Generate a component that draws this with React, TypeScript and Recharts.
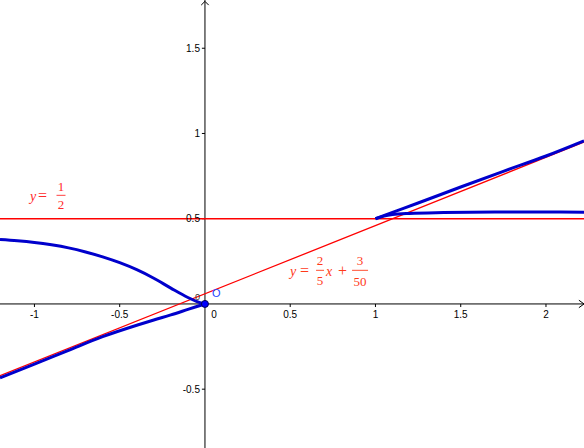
import { LineChart, Line, XAxis, YAxis, ReferenceLine, ReferenceDot } from "recharts";

// visible window of the plot (data units)
const X_DOMAIN: [number, number] = [-1.202, 2.223];
const Y_DOMAIN: [number, number] = [-0.845, 1.783];

const xTicks = [-1, -0.5, 0.5, 1, 1.5, 2];
const xTickLabels = ["-1", "-0.5", "0.5", "1", "1.5", "2"];
const yTicks = [-0.5, 0.5, 1, 1.5];
const yTickLabels = ["-0.5", "0.5", "1", "1.5"];

// blue curve, four branches
const upperLeftX = [-1.202, -1.1, -1.0, -0.9, -0.8, -0.7, -0.6, -0.5, -0.4, -0.3, -0.2, -0.1, -0.05, 0];
const upperLeftY = [0.378, 0.371, 0.361, 0.347, 0.329, 0.305, 0.276, 0.242, 0.201, 0.151, 0.093, 0.038, 0.015, 0];

const lowerLeftX = [-1.202, -1.0, -0.8, -0.6, -0.4, -0.3, -0.2, -0.1, 0];
const lowerLeftY = [-0.433, -0.353, -0.272, -0.192, -0.125, -0.094, -0.064, -0.032, 0];

const upperRightX = [1.0, 1.1, 1.25, 1.5, 1.75, 2.0, 2.223];
const upperRightY = [0.5, 0.537, 0.592, 0.686, 0.778, 0.868, 0.957];

const lowerRightX = [1.0, 1.05, 1.1, 1.2, 1.4, 1.7, 2.0, 2.223];
const lowerRightY = [0.5, 0.515, 0.524, 0.531, 0.536, 0.539, 0.539, 0.538];

// red asymptote y = 2/5 x + 3/50, end points at the window edges
const slantX = [-1.202, 2.223];
const slantY = [-0.421, 0.949];
const horizontalY = 0.5;

const zip = (xs: number[], ys: number[]) => xs.map((x, i) => ({ x, y: ys[i] }));

const BLUE = "#0000cc";
const RED = "#ff0000";
const AXIS_FONT = "'Liberation Sans', Arial, sans-serif";
const MATH_FONT = "'Liberation Serif', 'DejaVu Serif', serif";

const tickLabelX = (label: string) => (p: any) => (
  <text x={p.cx} y={p.cy + 14} textAnchor="middle" fontSize={10} fontFamily={AXIS_FONT} fill="#000">
    {label}
  </text>
);

const tickLabelY = (label: string) => (p: any) => (
  <text x={p.cx - 5} y={p.cy + 3.5} textAnchor="end" fontSize={10} fontFamily={AXIS_FONT} fill="#000">
    {label}
  </text>
);

function Frac(props: { cx: number; top: number; bar: number; bottom: number; num: string; den: string; w: number; color: string }) {
  return (
    <g fill={props.color} fontFamily={MATH_FONT} fontSize={13} textAnchor="middle">
      <text x={props.cx} y={props.top}>{props.num}</text>
      <line x1={props.cx - props.w / 2} x2={props.cx + props.w / 2} y1={props.bar} y2={props.bar} stroke={props.color} strokeWidth={0.9} />
      <text x={props.cx} y={props.bottom}>{props.den}</text>
    </g>
  );
}

// "y = 1/2" — anchored at its left baseline
const halfLabel = (p: any) => {
  const x = p.cx;
  const b = p.cy;
  const c = "#ff2a2a";
  return (
    <g>
      <text x={x} y={b} fill={c} fontFamily={MATH_FONT} fontSize={14} fontStyle="italic">y</text>
      <text x={x + 8} y={b} fill={c} fontFamily={MATH_FONT} fontSize={16}>=</text>
      <Frac cx={x + 31} top={b - 10.5} bar={b - 6} bottom={b + 8} num="1" den="2" w={9} color={c} />
    </g>
  );
};

// "y = 2/5 x + 3/50"
const slantLabel = (p: any) => {
  const x = p.cx;
  const b = p.cy;
  const c = "#ff3a1a";
  return (
    <g>
      <text x={x} y={b} fill={c} fontFamily={MATH_FONT} fontSize={14} fontStyle="italic">y</text>
      <text x={x + 10} y={b} fill={c} fontFamily={MATH_FONT} fontSize={16}>=</text>
      <Frac cx={x + 30} top={b - 10.5} bar={b - 5.5} bottom={b + 9.5} num="2" den="5" w={8} color={c} />
      <text x={x + 36} y={b} fill={c} fontFamily={MATH_FONT} fontSize={14} fontStyle="italic">x</text>
      <text x={x + 48} y={b} fill={c} fontFamily={MATH_FONT} fontSize={16}>+</text>
      <Frac cx={x + 70} top={b - 10.5} bar={b - 5.5} bottom={b + 10.5} num="3" den="50" w={16} color={c} />
    </g>
  );
};

const originLabels = (p: any) => (
  <g>
    <circle cx={p.cx} cy={p.cy} r={3.5} fill="#0000ff" stroke="#000055" strokeWidth={1} />
    <text x={p.cx + 7} y={p.cy - 7} fontSize={11} fontFamily={AXIS_FONT} fill="#2244ff">O</text>
    <text x={p.cx - 10} y={p.cy - 4} fontSize={9} fontFamily={AXIS_FONT} fill="#333">0</text>
    <text x={p.cx + 9} y={p.cy + 14} textAnchor="middle" fontSize={10} fontFamily={AXIS_FONT} fill="#000">0</text>
  </g>
);

export default function App() {
  const xTick = 0.018;
  const arrow = 0.03;
  return (
    <div style={{ position: "fixed", left: 0, top: 0, width: 584, height: 448, background: "#fff" }}>
      <LineChart width={584} height={448} margin={{ top: 0, right: 0, bottom: 0, left: 0 }}>
        <XAxis type="number" dataKey="x" domain={X_DOMAIN} allowDataOverflow hide />
        <YAxis type="number" dataKey="y" domain={Y_DOMAIN} allowDataOverflow hide />

        {/* axes through the origin */}
        <ReferenceLine y={0} stroke="#000" strokeWidth={1} />
        <ReferenceLine x={0} stroke="#000" strokeWidth={1} />
        <ReferenceLine segment={[{ x: X_DOMAIN[1] - arrow, y: 0.022 }, { x: X_DOMAIN[1], y: 0 }]} stroke="#000" />
        <ReferenceLine segment={[{ x: X_DOMAIN[1] - arrow, y: -0.022 }, { x: X_DOMAIN[1], y: 0 }]} stroke="#000" />
        <ReferenceLine segment={[{ x: -0.022, y: Y_DOMAIN[1] - arrow }, { x: 0, y: Y_DOMAIN[1] - 0.008 }]} stroke="#000" />
        <ReferenceLine segment={[{ x: 0.022, y: Y_DOMAIN[1] - arrow }, { x: 0, y: Y_DOMAIN[1] - 0.008 }]} stroke="#000" />
        {xTicks.map((t) => (
          <ReferenceLine key={`xt${t}`} segment={[{ x: t, y: 0 }, { x: t, y: -xTick }]} stroke="#000" />
        ))}
        {yTicks.map((t) => (
          <ReferenceLine key={`yt${t}`} segment={[{ x: -xTick, y: t }, { x: 0, y: t }]} stroke="#000" />
        ))}
        {xTicks.map((t, i) => (
          <ReferenceDot key={`xl${t}`} x={t} y={0} r={0} shape={tickLabelX(xTickLabels[i])} />
        ))}
        {yTicks.map((t, i) => (
          <ReferenceDot key={`yl${t}`} x={0} y={t} r={0} shape={tickLabelY(yTickLabels[i])} />
        ))}

        {/* red asymptotes */}
        <ReferenceLine y={horizontalY} stroke={RED} strokeWidth={1.5} />
        <Line data={zip(slantX, slantY)} dataKey="y" type="linear" stroke={RED} strokeWidth={1.3} dot={false} activeDot={false} isAnimationActive={false} />

        {/* blue curve */}
        <Line data={zip(upperLeftX, upperLeftY)} dataKey="y" type="monotone" stroke={BLUE} strokeWidth={3} dot={false} activeDot={false} isAnimationActive={false} />
        <Line data={zip(lowerLeftX, lowerLeftY)} dataKey="y" type="monotone" stroke={BLUE} strokeWidth={3} dot={false} activeDot={false} isAnimationActive={false} />
        <Line data={zip(upperRightX, upperRightY)} dataKey="y" type="monotone" stroke={BLUE} strokeWidth={3} dot={false} activeDot={false} isAnimationActive={false} />
        <Line data={zip(lowerRightX, lowerRightY)} dataKey="y" type="monotone" stroke={BLUE} strokeWidth={3} dot={false} activeDot={false} isAnimationActive={false} />

        {/* annotations */}
        <ReferenceDot x={-1.026} y={0.602} r={0} shape={halfLabel} />
        <ReferenceDot x={0.499} y={0.165} r={0} shape={slantLabel} />
        <ReferenceDot x={0} y={0} r={0} shape={originLabels} />
      </LineChart>
    </div>
  );
}
